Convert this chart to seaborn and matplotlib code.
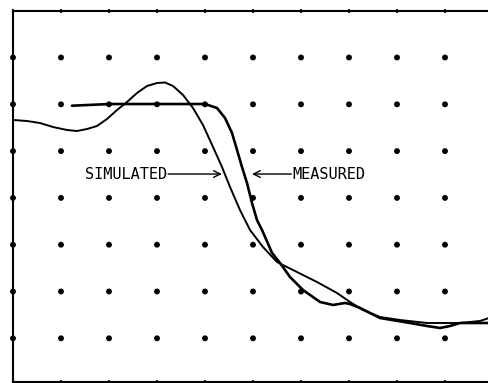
import numpy as np
import pandas as pd
import matplotlib
matplotlib.use("Agg")
import matplotlib.pyplot as plt
import seaborn as sns

# Data in graticule divisions (x: 0..10, y: 0..8)
sim_x = [0.000, 0.292, 0.563, 0.833, 1.125, 1.333, 1.542, 1.750, 1.958, 2.167,
         2.375, 2.583, 2.792, 3.000, 3.167, 3.333, 3.542, 3.750, 3.958, 4.167,
         4.354, 4.521, 4.729, 4.938, 5.208, 5.500, 5.833, 6.333, 6.750, 7.021,
         7.292, 7.646, 8.063, 8.625, 9.042, 9.313, 9.729, 9.917]
sim_y = [5.665, 5.643, 5.600, 5.515, 5.451, 5.429, 5.472, 5.536, 5.686, 5.878,
         6.049, 6.242, 6.391, 6.455, 6.466, 6.391, 6.199, 5.921, 5.558, 5.088,
         4.660, 4.233, 3.741, 3.314, 2.951, 2.630, 2.459, 2.203, 1.968, 1.776,
         1.605, 1.455, 1.391, 1.327, 1.327, 1.327, 1.370, 1.434]

meas_x = [1.229, 2.021, 3.208, 4.000, 4.250, 4.417, 4.563, 4.667, 4.771, 4.875,
          4.979, 5.083, 5.188, 5.396, 5.563, 5.771, 6.042, 6.396, 6.667, 6.917,
          7.021, 7.229, 7.438, 7.646, 8.271, 8.625, 8.896, 9.104, 9.313, 9.896]
meas_y = [5.970, 6.006, 6.006, 6.006, 5.921, 5.707, 5.387, 5.024, 4.660, 4.318,
          3.891, 3.528, 3.314, 2.825, 2.609, 2.310, 2.032, 1.776, 1.712, 1.755,
          1.733, 1.648, 1.541, 1.434, 1.327, 1.263, 1.220, 1.263, 1.327, 1.327]

grid_cols = list(range(0, 11))
grid_rows = list(range(1, 8))

labels = ["SIMULATED", "MEASURED"]

sns.set_style("white")
plt.rcParams['font.family'] = ['DejaVu Sans Mono', 'DejaVu Sans']

W, H = 489, 383
fig = plt.figure(figsize=(W / 100, H / 100), dpi=100)
ax = fig.add_axes([13 / W, (H - 381.7) / H, 476 / W, 371 / H])

ax.set_xlim(0, 476 / 48)
ax.set_ylim(8 - 371 / 46.8, 8)

gx, gy = np.meshgrid(grid_cols, grid_rows)
dots = pd.DataFrame({"x": gx.ravel(), "y": gy.ravel()})
sns.scatterplot(data=dots, x="x", y="y", ax=ax, s=18, color="black",
                edgecolor="none", clip_on=False, zorder=2)

sim = pd.DataFrame({"x": sim_x, "y": sim_y})
meas = pd.DataFrame({"x": meas_x, "y": meas_y})
sns.lineplot(data=sim, x="x", y="y", ax=ax, color="black", lw=1.4,
             sort=False, estimator=None, zorder=3)
sns.lineplot(data=meas, x="x", y="y", ax=ax, color="black", lw=1.9,
             sort=False, estimator=None, zorder=3)

# Annotations
ty = 4.51
ax.text(1.50, ty, labels[0], fontsize=11, ha="left", va="center", color="black")
ax.annotate("", xy=(4.35, ty), xytext=(3.23, ty),
            arrowprops=dict(arrowstyle="->", lw=1.0, color="black",
                            mutation_scale=12, shrinkA=0, shrinkB=0))
ax.text(5.83, ty, labels[1], fontsize=11, ha="left", va="center", color="black")
ax.annotate("", xy=(4.98, ty), xytext=(5.80, ty),
            arrowprops=dict(arrowstyle="->", lw=1.0, color="black",
                            mutation_scale=12, shrinkA=0, shrinkB=0))

# Frame
for side in ["left", "top", "bottom"]:
    ax.spines[side].set_visible(True)
    ax.spines[side].set_color("black")
    ax.spines[side].set_linewidth(1.5)
ax.spines["right"].set_visible(False)

ax.set_xticks(grid_cols[:10])
ax.set_yticks(grid_rows)
ax.tick_params(axis="x", which="both", top=True, bottom=True, direction="inout",
               length=3, width=1.5, labelbottom=False, labeltop=False)
ax.tick_params(axis="y", which="both", left=False, right=False, labelleft=False)
ax.set_xlabel("")
ax.set_ylabel("")

fig.savefig("out.png", dpi=100, facecolor="white")
